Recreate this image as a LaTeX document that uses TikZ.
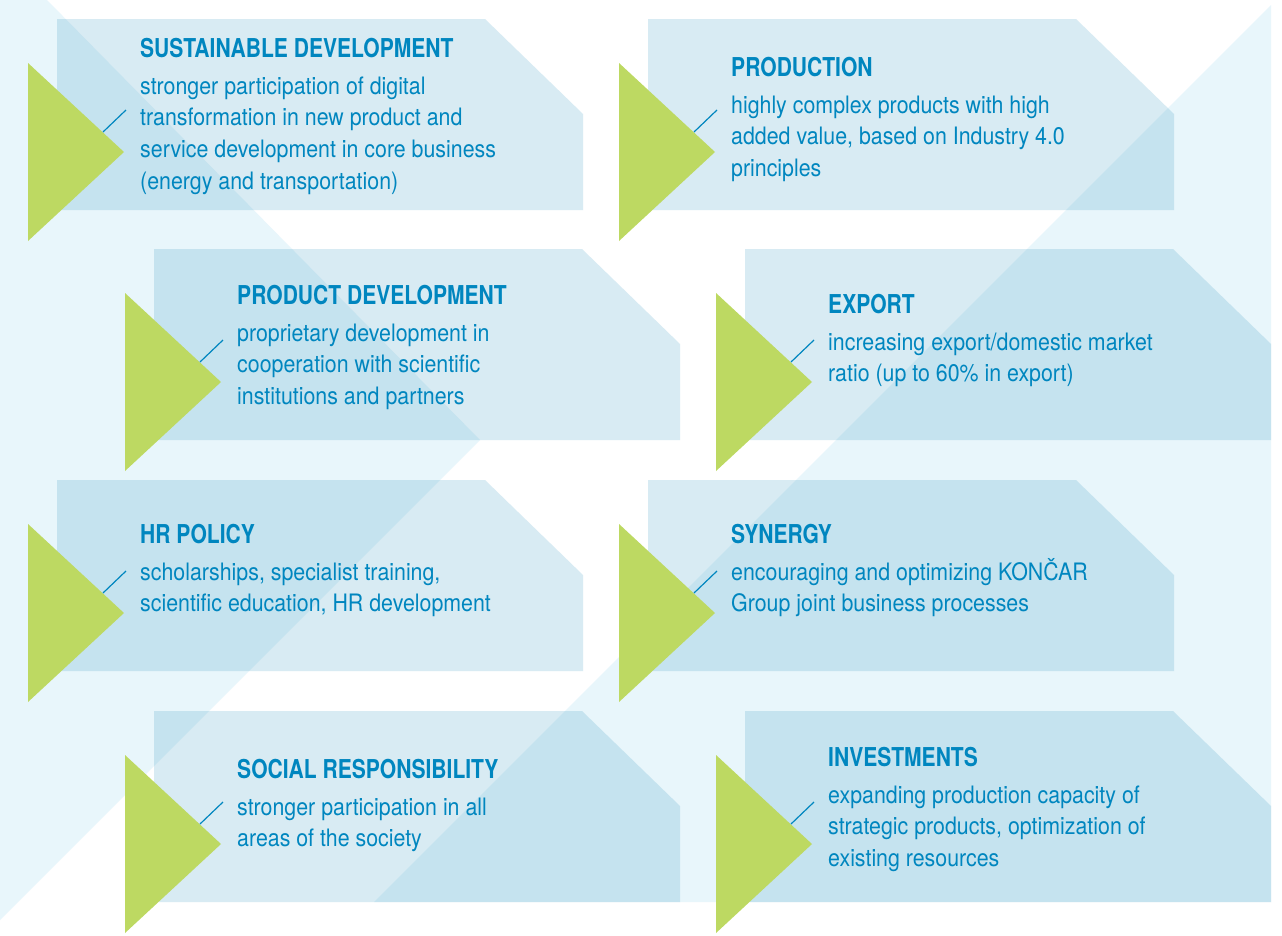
\documentclass[tikz,border=0pt]{standalone}
\usepackage{fontspec}
\usetikzlibrary{positioning}
\usetikzlibrary{calc}
\newfontfamily\headfont{TeX Gyre Heros}[FakeStretch=0.81]
\newfontfamily\bodyfont{TeX Gyre Heros}[FakeStretch=0.89]
\definecolor{konblue}{RGB}{0,134,191}
\definecolor{panelblue}{RGB}{31,140,186}
\definecolor{palebg}{RGB}{232,246,251}
\definecolor{leaf}{RGB}{189,217,98}
\tikzset{
pale/.style={fill=palebg},
panel/.style={
  fill=panelblue,
  fill opacity=0.174
  },
wedge/.style={fill=leaf},
slash/.style={draw=konblue, line width=1.2pt},
hd/.style={
  anchor=base west,
  inner sep=0pt,
  text=konblue,
  font=\headfont\bfseries\fontsize{26}{30}\selectfont
  },
bd/.style={
  anchor=base west,
  inner sep=0pt,
  align=left,
  text=konblue,
  font=\bodyfont\fontsize{24}{31.7}\selectfont
  }
}
% one goal: name, corner x, corner y, heading baseline, heading, body, body lines
\newcommand{\goal}[7]{%
  \coordinate (#1) at (#2,#3);
  \fill[panel] (#1) -- ++(428,0) -- ++(98,95) -- ++(0,96) -- ++(-526,0) -- cycle;
  \fill[wedge] ($(#1)+(-29,44)$) -- ++(96,89) -- ++(-96,89) -- cycle;
  \coordinate (#1s) at ($(#1)+(46,113)$);
  \coordinate (#1t) at ($(#1)+(69,91)$);
  \draw[slash] (#1s) -- (#1t);
  \node[hd] (#1h) at ($(#1)+(83,#4)$) {#5};
  % base of a multi-line node sits on its last line
  \node[bd] (#1b) at ([yshift={-(37+(#7-1)*31.7)*1pt}]#1h.base west) {#6};
}
\begin{document}
\begin{tikzpicture}[x=1pt,y=-1pt]
    \useasboundingbox (0,0) rectangle (1282,935);
    \fill[white] (0,0) rectangle (1282,935);
    \fill[pale] (0,0) -- (47,0) -- (480,440) -- (0,920) -- cycle;
    \fill[pale] (1271,5) -- (1271,902) -- (374,902) -- cycle;
    \goal{sd}{57}{19}{38}{SUSTAINABLE DEVELOPMENT}{stronger participation of digital\\transformation in new product and\\service development in core business\\(energy and transportation)}{4}
    \goal{pr}{648}{19}{57}{PRODUCTION}{highly complex products with high\\added value, based on Industry 4.0\\principles}{3}
    \goal{pd}{154}{249}{55}{PRODUCT DEVELOPMENT}{proprietary development in\\cooperation with scientific\\institutions and partners}{3}
    \goal{ex}{745}{249}{64}{EXPORT}{increasing export/domestic market\\ratio (up to 60\% in export)}{2}
    \goal{hr}{57}{480}{63}{HR POLICY}{scholarships, specialist training,\\scientific education, HR development}{2}
    \goal{sy}{648}{480}{63}{SYNERGY}{encouraging and optimizing KONČAR\\Group joint business processes}{2}
    \goal{sr}{154}{711}{67}{SOCIAL RESPONSIBILITY}{stronger participation in all\\areas of the society}{2}
    \goal{inv}{745}{711}{55}{INVESTMENTS}{expanding production capacity of\\strategic products, optimization of\\existing resources}{3}
\end{tikzpicture}
\end{document}
